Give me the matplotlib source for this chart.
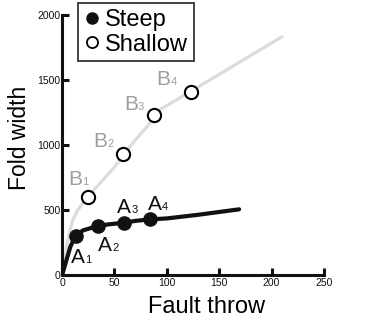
import matplotlib
matplotlib.use("Agg")
import matplotlib.pyplot as plt
from matplotlib.lines import Line2D

plt.rcParams['font.family'] = ['Liberation Sans', 'DejaVu Sans']

# Curves
steep_line_x = [0, 4, 8, 13, 20, 34, 45, 59, 70, 84, 100, 130, 169]
steep_line_y = [0, 110, 220, 302, 345, 379, 392, 404, 418, 430, 437, 465, 507]
shallow_line_x = [0, 5, 10, 15, 25, 39, 50, 60, 70, 81, 93, 210]
shallow_line_y = [0, 250, 420, 501, 610, 732, 830, 940, 1040, 1141, 1270, 1833]

# Markers
steep_x = [13.4, 34, 59.2, 84]
steep_y = [302, 379, 404, 430]
shallow_x = [24.5, 57.9, 88.1, 122.8]
shallow_y = [601, 929, 1231, 1408]

steep_labels = [('A', '1'), ('A', '2'), ('A', '3'), ('A', '4')]
steep_label_pos = [(9, 98), (34.6, 189), (52.8, 476), (82.3, 501)]
shallow_labels = [('B', '1'), ('B', '2'), ('B', '3'), ('B', '4')]
shallow_label_pos = [(6, 693), (30, 988), (59.2, 1270), (90, 1462)]

fig = plt.figure(figsize=(3.83, 3.22), dpi=100)
ax = fig.add_axes([62/383, 1-275.3/322, (324-62)/383, (275.3-15)/322])

ax.plot(shallow_line_x, shallow_line_y, color='#dcdcdc', lw=2.3, solid_capstyle='round', zorder=2)
ax.plot(steep_line_x, steep_line_y, color='#111111', lw=3.0, solid_capstyle='round', zorder=3)
ax.plot(shallow_x, shallow_y, 'o', ms=9.5, mfc='white', mec='black', mew=1.5, zorder=4, clip_on=False)
ax.plot(steep_x, steep_y, 'o', ms=9.5, mfc='#111111', mec='#111111', zorder=4)

main_fs = 15
sub_fs = 8
def label(main, sub, x, y, color):
    ax.text(x, y, main, fontsize=main_fs, color=color, ha='left', va='baseline')
    ax.annotate(sub, xy=(x, y), xytext=(main_fs * 0.67, 0), textcoords='offset points',
                fontsize=sub_fs, color=color, ha='left', va='baseline')

for (m, s), (x, y) in zip(steep_labels, steep_label_pos):
    label(m, s, x, y, '#111111')
for (m, s), (x, y) in zip(shallow_labels, shallow_label_pos):
    label(m, s, x, y, '#9e9e9e')

ax.set_xlim(0, 250)
ax.set_ylim(0, 2000)
ax.set_xticks([0, 50, 100, 150, 200, 250])
ax.set_yticks([0, 500, 1000, 1500, 2000])
for s in ['top', 'right']:
    ax.spines[s].set_visible(False)
for s in ['left', 'bottom']:
    ax.spines[s].set_linewidth(2.2)
    ax.spines[s].set_color('#111111')
ax.tick_params(direction='in', length=5, width=2.2, labelsize=7.5, pad=2, colors='#111111')
ax.tick_params(axis='y', pad=1)

fig.text(206/383, 1-307/322, 'Fault throw', fontsize=17, ha='center', va='center')
fig.text(20/383, 1-138/322, 'Fold width', fontsize=16.5, ha='center', va='center', rotation=90)

handles = [
    Line2D([], [], ls='none', marker='o', ms=8, mfc='#111111', mec='#111111'),
    Line2D([], [], ls='none', marker='o', ms=8, mfc='white', mec='black', mew=1.3),
]
leg = fig.legend(handles, ['Steep', 'Shallow'], loc='upper left',
                 bbox_to_anchor=(78.3/383, 1-3.3/322), fontsize=17, frameon=True,
                 fancybox=False, handlelength=0.65, handletextpad=0.22,
                 borderpad=0.25, labelspacing=0.1, borderaxespad=0)
leg.get_frame().set_edgecolor('black')
leg.get_frame().set_linewidth(1.3)

fig.savefig('out.png', dpi=100)
